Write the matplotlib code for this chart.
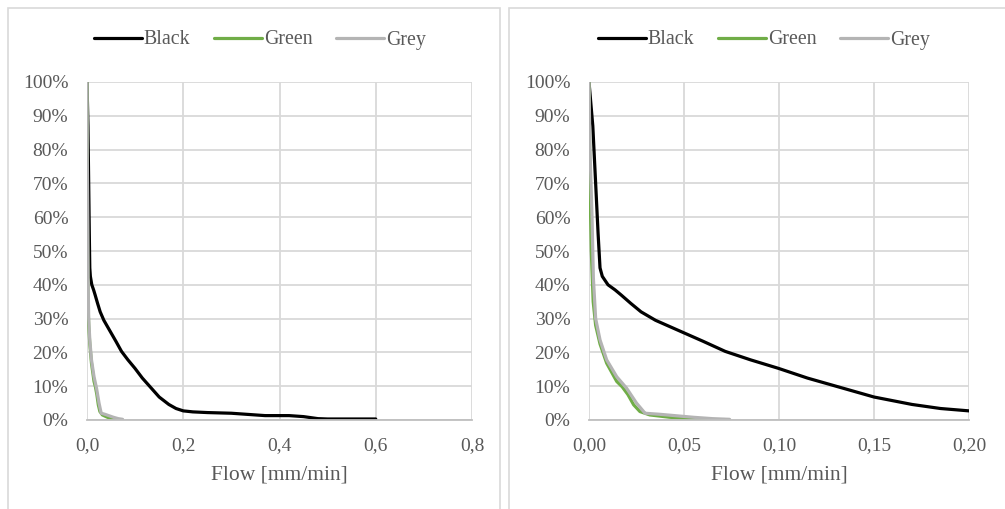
import matplotlib
matplotlib.use('Agg')
import matplotlib.pyplot as plt
from matplotlib.patches import Rectangle
from matplotlib.ticker import FuncFormatter, MultipleLocator

# flow [mm/min] vs share [%]
black_x = [0.0, 0.002, 0.0035, 0.0048, 0.0058, 0.007, 0.01, 0.0137, 0.0169, 0.022, 0.0274,
           0.035, 0.0495, 0.06, 0.0717, 0.085, 0.0996, 0.115, 0.13, 0.15, 0.17, 0.185,
           0.2, 0.22, 0.25, 0.3, 0.33, 0.37, 0.42, 0.45, 0.48, 0.5, 0.6]
black_y = [100, 87, 70, 55, 45, 42.5, 40, 38.5, 37, 34.5, 32, 29.5, 25.9, 23.3, 20.3, 17.8,
           15.3, 12.4, 10, 6.8, 4.6, 3.4, 2.7, 2.4, 2.2, 2.0, 1.7, 1.3, 1.3, 1.0, 0.4, 0.3, 0.3]

green_x = [0.0, 0.0005, 0.0012, 0.0022, 0.0035, 0.0058, 0.0093, 0.0146, 0.0175, 0.0205,
           0.0235, 0.0268, 0.032, 0.0426, 0.0585, 0.065]
green_y = [100, 70, 50, 35, 28, 22.5, 16.8, 11.4, 9.8, 7.5, 4.5, 2.5, 1.5, 0.8, 0.2, 0.1]

grey_x = [0.0, 0.0005, 0.0016, 0.0023, 0.0035, 0.0058, 0.0093, 0.0146, 0.0198, 0.025,
          0.0295, 0.037, 0.045, 0.055, 0.065, 0.074]
grey_y = [100, 80, 60, 42, 30, 23.7, 17.8, 12.8, 9.4, 5.0, 2.0, 1.7, 1.3, 0.8, 0.4, 0.2]

series = [('Black', black_x, black_y, '#000000'),
          ('Green', green_x, green_y, '#70ad47'),
          ('Grey', grey_x, grey_y, '#b4b4b4')]

txt = '#595959'
grid = '#d9d9d9'
plt.rcParams['font.family'] = ['Liberation Serif', 'DejaVu Serif']

fig = plt.figure(figsize=(10.05, 5.09), dpi=100)
W, H = 1005.0, 509.0

# chart area borders
fig.add_artist(Rectangle((8 / W, -0.1), 492 / W, 1.1 - 8 / H, transform=fig.transFigure,
                         fill=False, edgecolor=grid, lw=1.2))
fig.add_artist(Rectangle((509 / W, -0.1), 500 / W, 1.1 - 8 / H, transform=fig.transFigure,
                         fill=False, edgecolor=grid, lw=1.2))

panels = [(87, 472, 0.8, 0.2, 1, 260), (589, 969, 0.2, 0.05, 2, 764)]

for x0, x1, xmax, step, dec, cx in panels:
    ax = fig.add_axes([x0 / W, (H - 420) / H, (x1 - x0) / W, 338 / H])
    for name, xs, ys, col in series:
        ax.plot(xs, ys, color=col, lw=2.3, label=name, solid_joinstyle='round',
                solid_capstyle='round')
    ax.set_xlim(0, xmax)
    ax.set_ylim(0, 100)
    ax.xaxis.set_major_locator(MultipleLocator(step))
    ax.yaxis.set_major_locator(MultipleLocator(10))
    ax.xaxis.set_major_formatter(FuncFormatter(
        lambda v, p, d=dec: ('%.*f' % (d, v)).replace('.', ',')))
    ax.yaxis.set_major_formatter(FuncFormatter(lambda v, p: '%d%%' % round(v)))
    ax.grid(True, color=grid, lw=1.3)
    ax.set_axisbelow(True)
    for s in ['top', 'right', 'left']:
        ax.spines[s].set_visible(False)
    ax.spines['bottom'].set_color('#bfbfbf')
    ax.spines['bottom'].set_linewidth(1.3)
    ax.tick_params(length=0, labelsize=14, labelcolor=txt)
    ax.tick_params(axis='x', pad=12.5)
    ax.tick_params(axis='y', pad=13.5)
    ax.set_xlabel('Flow [mm/min]', fontsize=15.5, color=txt, labelpad=8)
    h, l = ax.get_legend_handles_labels()
    fig.legend(h, l, loc='center', bbox_to_anchor=(cx / W, 1 - 40 / H), ncol=3,
               frameon=False, fontsize=14.3, labelcolor=txt, handlelength=2.4,
               handletextpad=0.1, columnspacing=1.2)

fig.savefig('out.png', dpi=100, facecolor='white')
